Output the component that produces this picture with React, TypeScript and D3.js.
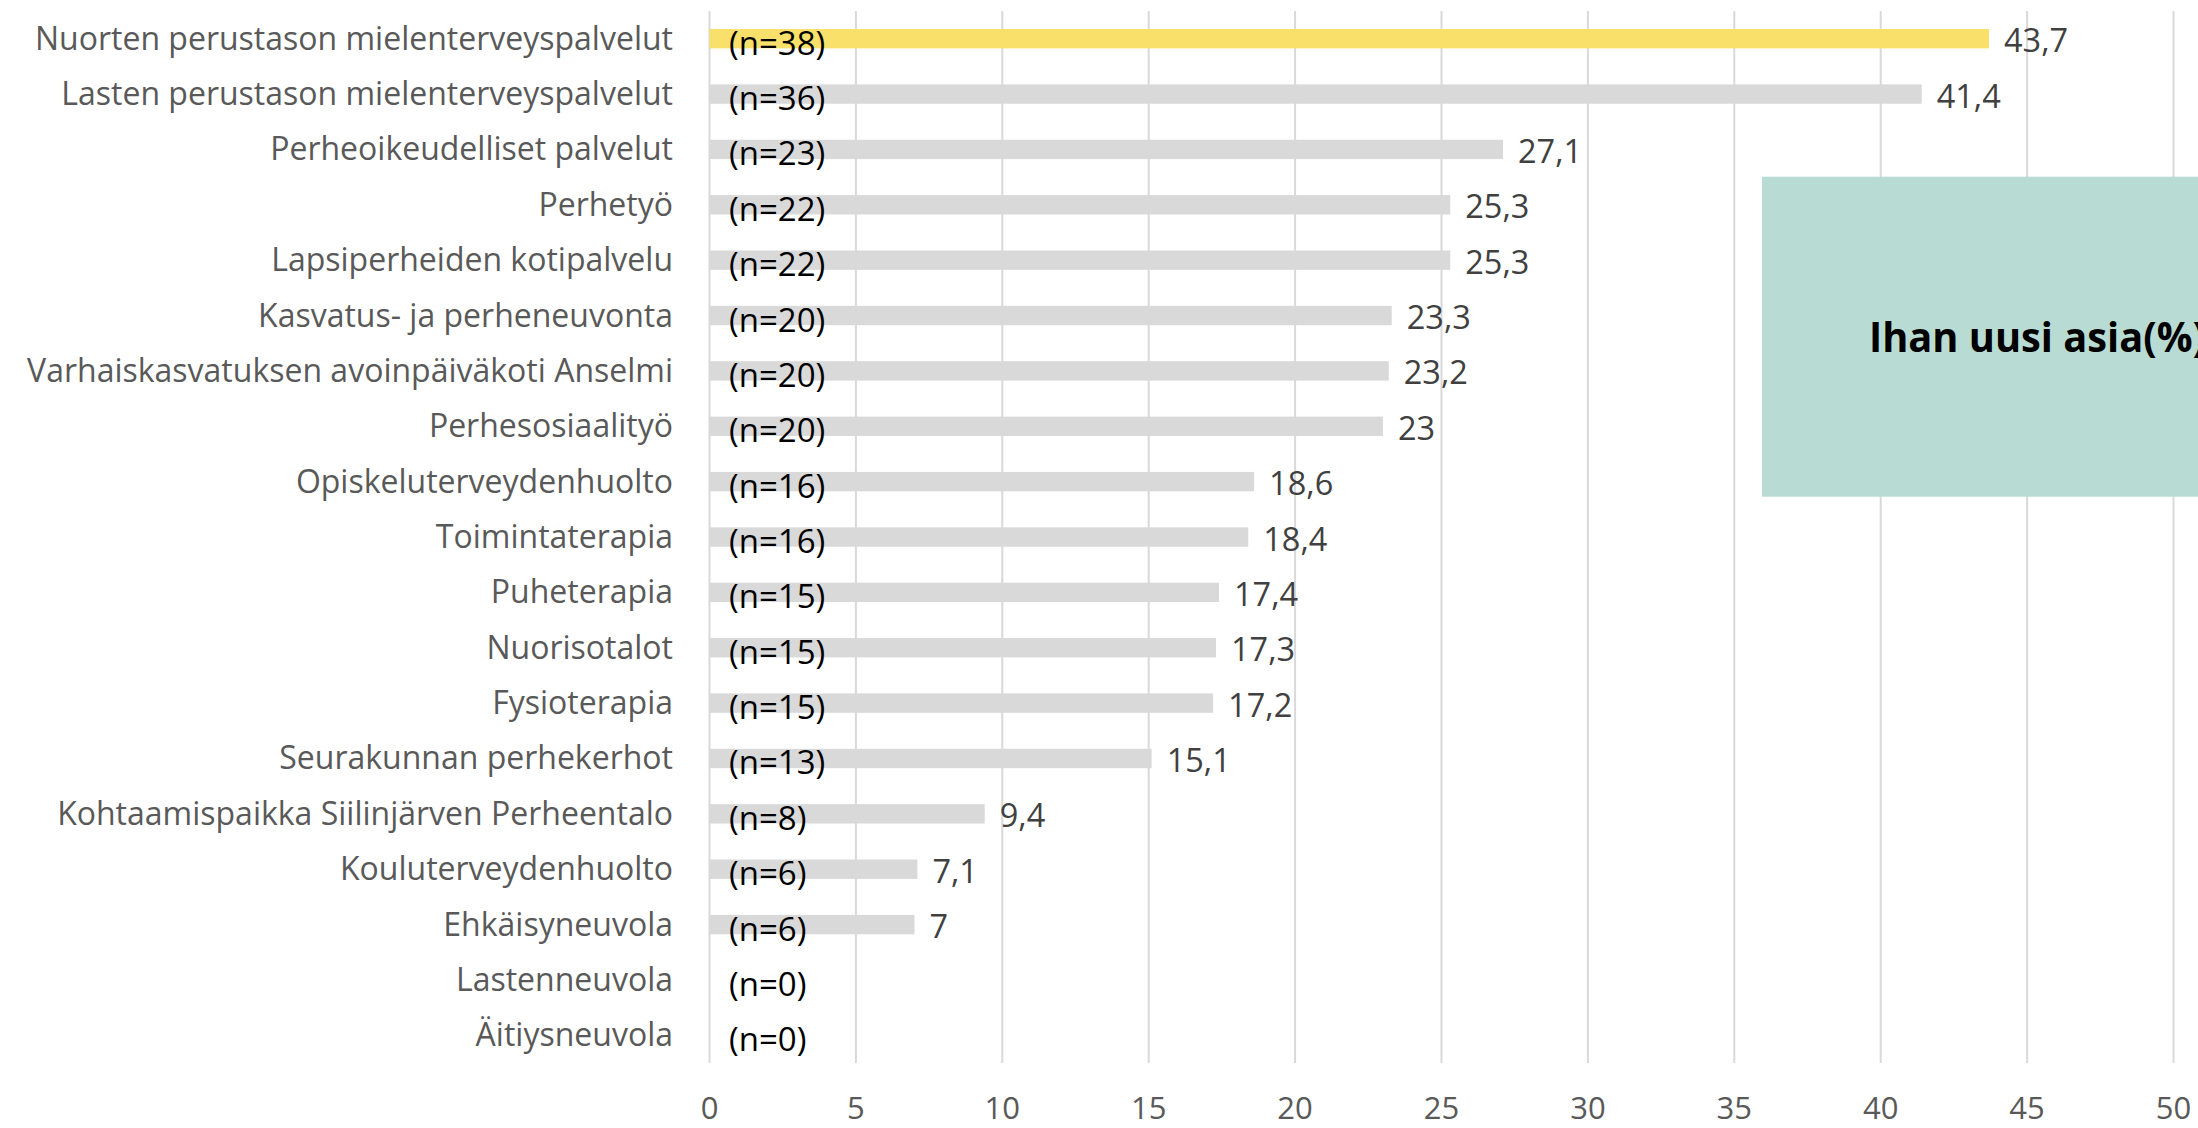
import React from "react";
import * as d3 from "d3";

const categories: string[] = [
  "Nuorten perustason mielenterveyspalvelut",
  "Lasten perustason mielenterveyspalvelut",
  "Perheoikeudelliset palvelut",
  "Perhetyö",
  "Lapsiperheiden kotipalvelu",
  "Kasvatus- ja perheneuvonta",
  "Varhaiskasvatuksen avoinpäiväkoti Anselmi",
  "Perhesosiaalityö",
  "Opiskeluterveydenhuolto",
  "Toimintaterapia",
  "Puheterapia",
  "Nuorisotalot",
  "Fysioterapia",
  "Seurakunnan perhekerhot",
  "Kohtaamispaikka Siilinjärven Perheentalo",
  "Kouluterveydenhuolto",
  "Ehkäisyneuvola",
  "Lastenneuvola",
  "Äitiysneuvola",
];

const values: number[] = [43.7, 41.4, 27.1, 25.3, 25.3, 23.3, 23.2, 23, 18.6, 18.4, 17.4, 17.3, 17.2, 15.1, 9.4, 7.1, 7, 0, 0];

const counts: number[] = [38, 36, 23, 22, 22, 20, 20, 20, 16, 16, 15, 15, 15, 13, 8, 6, 6, 0, 0];

const highlighted: string[] = ["Nuorten perustason mielenterveyspalvelut"];

const xDomain: [number, number] = [0, 50];

const titleText = "Ihan uusi asia(%)";

const W = 2198;
const H = 1128;
const FONT = "'Open Sans', 'Noto Sans', sans-serif";

export default function App() {
  const x = d3.scaleLinear().domain(xDomain).range([709.5, 2173.5]);
  const y = d3
    .scaleBand<string>()
    .domain(categories)
    .range([11, 1063])
    .paddingInner(0.65)
    .paddingOuter(0.325);
  const ticks = x.ticks(10);
  const bw = y.bandwidth();
  const fmt = (v: number) => String(v).replace(".", ",");

  return (
    <svg
      width={W}
      height={H}
      style={{ position: "absolute", left: 0, top: 0, background: "#fff" }}
      fontFamily={FONT}
    >
      <rect x={0} y={0} width={W} height={H} fill="#fff" />
      {/* gridlines */}
      {ticks.map((t) => (
        <line
          key={"g" + t}
          x1={x(t)}
          x2={x(t)}
          y1={11}
          y2={1063}
          stroke="#d9d9d9"
          strokeWidth={2}
        />
      ))}
      {/* bars */}
      {categories.map((c, i) => (
        <rect
          key={"b" + c}
          x={x(0)}
          y={y(c)!}
          width={Math.max(0, x(values[i]) - x(0))}
          height={bw}
          fill={highlighted.includes(c) ? "#f9e06b" : "#d9d9d9"}
        />
      ))}
      {/* category labels */}
      {categories.map((c) => (
        <text
          key={"c" + c}
          x={673}
          y={y(c)! + bw / 2 + 11}
          textAnchor="end"
          fontSize={32}
          fill="#595959"
        >
          {c}
        </text>
      ))}
      {/* value labels */}
      {categories.map((c, i) =>
        values[i] > 0 ? (
          <text
            key={"v" + c}
            x={x(values[i]) + 15}
            y={y(c)! + bw / 2 + 13.5}
            fontSize={32.5}
            fill="#404040"
          >
            {fmt(values[i])}
          </text>
        ) : null
      )}
      {/* n labels */}
      {categories.map((c, i) => (
        <text
          key={"n" + c}
          x={729}
          y={y(c)! + bw / 2 + 16}
          fontSize={33}
          fill="#000"
        >
          {`(n=${counts[i]})`}
        </text>
      ))}
      {/* x tick labels */}
      {ticks.map((t) => (
        <text
          key={"t" + t}
          x={x(t)}
          y={1118.5}
          textAnchor="middle"
          fontSize={31}
          fill="#595959"
        >
          {t}
        </text>
      ))}
      {/* title box */}
      <rect x={1762} y={176.7} width={520} height={320} fill="#b8dcd3" />
      <text
        x={1869}
        y={352}
        fontSize={42}
        fontWeight="bold"
        fill="#000"
        textLength={337}
        lengthAdjust="spacingAndGlyphs"
      >
        {titleText}
      </text>
    </svg>
  );
}
